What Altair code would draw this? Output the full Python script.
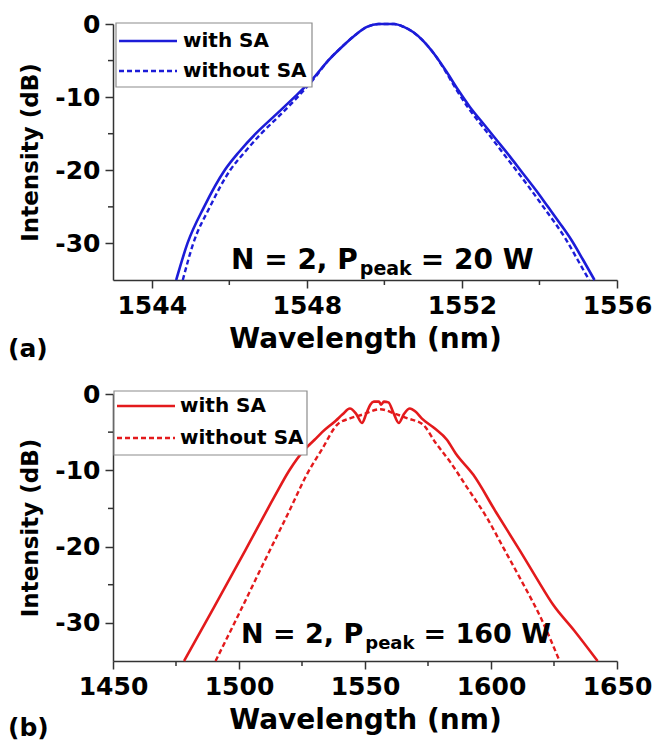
import altair as alt
import pandas as pd

FONT = "DejaVu Sans"
BLUE = "#1c1cd8"
RED = "#e31a1c"
AXC = "#333333"

# ---------------- panel (a): N = 2, Ppeak = 20 W ----------------
a_with_wl = [1544.63, 1544.92, 1545.35, 1545.88, 1546.25, 1546.68, 1547.18, 1547.68, 1548.15, 1548.55,
             1548.93, 1549.25, 1549.55, 1549.85, 1550.25, 1550.50, 1550.74, 1551.00, 1551.30, 1551.60,
             1551.90, 1552.20, 1552.55, 1552.90, 1553.25, 1553.57, 1553.92, 1554.22, 1554.52, 1554.82,
             1555.12, 1555.42]
a_with_db = [-35, -30, -25, -20, -17.5, -15, -12.5, -10, -7.5, -5,
             -3, -1.5, -0.4, 0, 0, -0.4, -1.1, -2.3, -4.2, -6.5,
             -9, -11.3, -13.6, -15.9, -18.2, -20.4, -22.8, -25, -27.2, -29.5,
             -32.2, -35]
a_wo_wl = [1544.80, 1545.07, 1545.50, 1546.02, 1546.40, 1546.82, 1547.30, 1547.76, 1548.18, 1548.55,
           1548.93, 1549.25, 1549.55, 1549.85, 1550.25, 1550.50, 1550.74, 1551.00, 1551.30, 1551.58,
           1551.86, 1552.14, 1552.47, 1552.81, 1553.14, 1553.46, 1553.80, 1554.10, 1554.40, 1554.69,
           1554.98, 1555.28]
a_wo_db = [-35, -30, -25, -20, -17.5, -15, -12.5, -10, -7.5, -5,
           -3, -1.5, -0.4, 0, 0, -0.4, -1.1, -2.3, -4.2, -6.5,
           -9, -11.3, -13.6, -15.9, -18.2, -20.4, -22.8, -25, -27.2, -29.5,
           -32.2, -35]
a_xdomain = [1543, 1556]
a_xticks = [1544, 1548, 1552, 1556]
a_xminor = [1546, 1550, 1554]

# ---------------- panel (b): N = 2, Ppeak = 160 W ----------------
b_with_wl = [1478.2, 1490, 1502.5, 1514, 1520, 1526, 1530, 1533, 1538.4, 1541,
             1544, 1546.5, 1548.8, 1550.5, 1552.1, 1553.5, 1555.5, 1556.4, 1557.5, 1559.3,
             1561.2, 1563.4, 1565.5, 1567.8, 1570, 1572.5, 1577.6, 1582.5, 1586, 1593,
             1602, 1611.6, 1618, 1624.6, 1633, 1642.3]
b_with_db = [-35, -28, -20.5, -13.5, -10, -7.3, -6, -5, -3.5, -2.7,
             -1.9, -2.6, -3.8, -2.6, -1.4, -1.0, -1.0, -1.4, -1.0, -1.1,
             -2.4, -3.8, -2.6, -1.9, -2.3, -3.2, -4.5, -6.0, -7.8, -10.6,
             -15.5, -20.6, -24.1, -27.6, -31, -35]
b_wo_wl = [1490.7, 1500, 1510, 1520, 1527, 1533, 1539, 1544, 1549, 1556,
           1562, 1567, 1573, 1578, 1584, 1590, 1598.5, 1605, 1611.6, 1620, 1627.2]
b_wo_db = [-35, -28.8, -22, -15.3, -10.5, -7.2, -4.0, -3.2, -2.7, -2.0,
           -2.6, -3.2, -4.0, -6.4, -9.0, -12.0, -16.3, -20.2, -24.2, -29.5, -35]
b_xdomain = [1450, 1650]
b_xticks = [1450, 1500, 1550, 1600, 1650]
b_xminor = [1475, 1525, 1575, 1625]

y_domain = [-35, 0]
y_ticks = [0, -10, -20, -30]
y_minor = [-5, -15, -25]

series = ["with SA", "without SA"]


def panel(with_wl, with_db, wo_wl, wo_db, color, xdom, xticks, xminor,
          W, H, leg, ann, value_text, tag, tag_y, fs):
    X = alt.X("wl:Q", scale=alt.Scale(domain=xdom, nice=False, zero=False),
              axis=alt.Axis(values=xticks, title="Wavelength (nm)", labelExpr="'' + datum.value"))
    Y = alt.Y("db:Q", scale=alt.Scale(domain=y_domain, nice=False, zero=False),
              axis=alt.Axis(values=y_ticks, title="Intensity (dB)", labelExpr="'' + datum.value"))
    d_with = pd.DataFrame({"wl": with_wl, "db": with_db})
    d_wo = pd.DataFrame({"wl": wo_wl, "db": wo_db})
    solid = alt.Chart(d_with).mark_line(color=color, strokeWidth=2.6,
                                        interpolate="monotone").encode(x=X, y=Y)
    dashed = alt.Chart(d_wo).mark_line(color=color, strokeWidth=2.4, strokeDash=[5, 3],
                                       interpolate="monotone").encode(x=X, y=Y)
    xm = alt.Chart(pd.DataFrame({"wl": xminor})).mark_rule(color=AXC, strokeWidth=1.5).encode(
        x=X, y=alt.value(H), y2=alt.value(H + 5))
    ym = alt.Chart(pd.DataFrame({"db": y_minor})).mark_rule(color=AXC, strokeWidth=1.5).encode(
        y=Y, x=alt.value(-5), x2=alt.value(0))
    bx0, bx1, by0, by1, lx0, lx1, ly1, ly2, tx = leg
    box = alt.Chart().mark_rect(fill="white", stroke="#8c8c8c", strokeWidth=1.2).encode(
        x=alt.value(bx0), x2=alt.value(bx1), y=alt.value(by0), y2=alt.value(by1))
    l1 = alt.Chart().mark_rule(color=color, strokeWidth=2.6).encode(
        x=alt.value(lx0), x2=alt.value(lx1), y=alt.value(ly1))
    l2 = alt.Chart().mark_rule(color=color, strokeWidth=2.4, strokeDash=[5, 3]).encode(
        x=alt.value(lx0), x2=alt.value(lx1), y=alt.value(ly2))
    tstyle = dict(align="left", baseline="middle", font=FONT, fontWeight="bold",
                  fontSize=20, color="black")
    t1 = alt.Chart().mark_text(**tstyle).encode(
        x=alt.value(tx), y=alt.value(ly1), text=alt.value(series[0]))
    t2 = alt.Chart().mark_text(**tstyle).encode(
        x=alt.value(tx), y=alt.value(ly2), text=alt.value(series[1]))
    ax, ay = ann
    fss = round(fs * 0.68)
    astyle = dict(align="left", baseline="alphabetic", font=FONT, fontWeight="bold", color="black")
    x2 = ax + 4.528 * fs + 2
    x3 = x2 + 2.734 * fss + 9
    a1 = alt.Chart().mark_text(fontSize=fs, **astyle).encode(
        x=alt.value(ax), y=alt.value(ay), text=alt.value("N = 2, P"))
    a2 = alt.Chart().mark_text(fontSize=fss, **astyle).encode(
        x=alt.value(x2), y=alt.value(ay + 6), text=alt.value("peak"))
    a3 = alt.Chart().mark_text(fontSize=fs, **astyle).encode(
        x=alt.value(x3), y=alt.value(ay), text=alt.value(value_text))
    lab = alt.Chart().mark_text(fontSize=25, **astyle).encode(
        x=alt.value(-105), y=alt.value(tag_y), text=alt.value(tag))
    return alt.layer(solid, dashed, xm, ym, box, l1, l2, t1, t2, a1, a2, a3, lab).properties(
        width=W, height=H)


top = panel(a_with_wl, a_with_db, a_wo_wl, a_wo_db, BLUE, a_xdomain, a_xticks, a_xminor,
            504, 256, (3, 199, -1, 63, 6, 64, 17, 47, 70), (118, 245), "= 20 W", "(a)", 333, 28)
bottom = panel(b_with_wl, b_with_db, b_wo_wl, b_wo_db, RED, b_xdomain, b_xticks, b_xminor,
               504, 267, (1, 194, -3, 61, 4, 62, 12, 44, 67), (128, 249), "= 160 W", "(b)", 342, 27)

chart = alt.vconcat(top, bottom, spacing=20).properties(
    padding={"left": 0, "top": 4, "right": 0, "bottom": 0}
).configure_view(stroke=None).configure_axis(
    grid=False,
    labelFont=FONT, labelFontWeight="bold", labelFontSize=25, labelColor="black",
    titleFont=FONT, titleFontWeight="bold", titleColor="black",
    tickSize=8, tickWidth=1.5, tickColor=AXC, domainColor=AXC, domainWidth=1.5,
    labelPadding=5,
).configure_axisX(titleFontSize=28, titlePadding=7, labelFlush=False
).configure_axisY(titleFontSize=23, titlePadding=12)

chart.save("out.html", embed_options={"renderer": "svg", "actions": False})
